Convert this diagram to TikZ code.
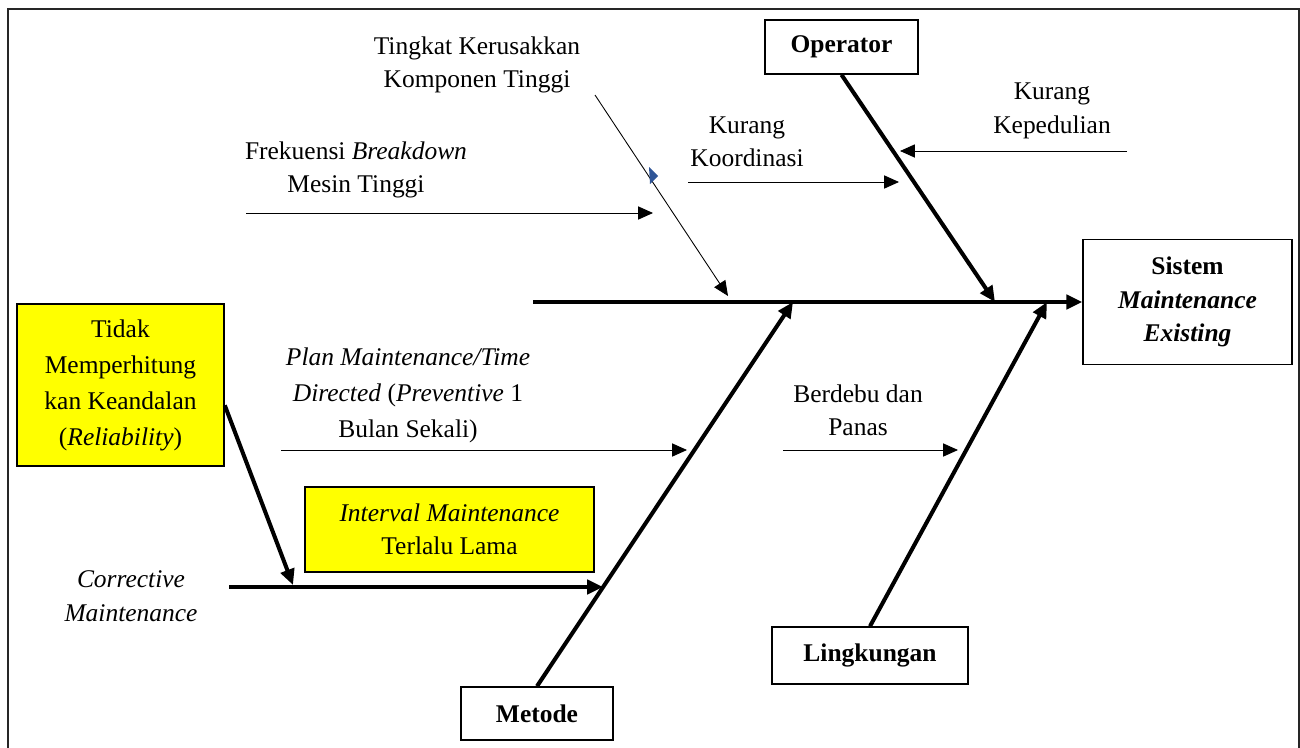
\documentclass[tikz,border=0pt]{standalone}
\usepackage{fontspec}
\setmainfont{Liberation Serif}
\usetikzlibrary{arrows.meta,positioning,calc}
\definecolor{hilite}{HTML}{FFFF00}
\definecolor{stray}{HTML}{2F5597}

\begin{document}
\begin{tikzpicture}[x=0.02cm,y=-0.02cm,font=\fontsize{14.5}{19}\selectfont,
    catbox/.style={draw,line width=0.9pt,inner sep=0pt,font=\fontsize{14.5}{19}\selectfont\bfseries},
    causebox/.style={draw,line width=0.9pt,fill=hilite,inner sep=0pt,align=center},
    note/.style={align=center,inner sep=0pt},
    tall/.style={font=\fontsize{14.5}{20.5}\selectfont},
    bone/.style={line width=2.3pt,-{Triangle[length=9pt,width=8pt]}},
    twig/.style={line width=0.5pt,-{Triangle[length=8.5pt,width=7.5pt]}}]
  \useasboundingbox (0,0) rectangle (1300,747);
  % frame
  \draw[line width=1.1pt,black!85] (8,760) -- (8,9) -- (1299,9) -- (1299,760);

  % effect and main categories
  \node[catbox,minimum width=4.18cm,minimum height=2.5cm,align=center] (effect) at (1187.5,302)
    {Sistem\\\textit{Maintenance}\\\textit{Existing}};
  \node[catbox,minimum width=3.06cm,minimum height=1.08cm] (op) at (841.5,47) {Operator};
  \node[catbox,minimum width=3.04cm,minimum height=1.06cm] (met) at (537,713.5) {Metode};
  \node[catbox,minimum width=3.92cm,minimum height=1.14cm] (env) at (870,655.5) {Lingkungan};

  % spine
  \coordinate (tail) at (533,302);
  \coordinate (jop) at (995,302);
  \coordinate (jmet) at (793,302);
  \coordinate (jenv) at (1047,302);
  \draw[bone] (tail) -- (effect.west);
  \draw[bone] (op.south) -- (jop);
  \draw[bone] (met.north) -- (jmet);
  \draw[bone] (env.north) -- (jenv);

  % operator causes
  \node[note] (peduli) at (1052,111) {Kurang\\Kepedulian};
  \node[note] (koord) at (747,142) {Kurang\\Koordinasi};
  \coordinate (peduliS) at (1127,151);
  \coordinate (peduliE) at (900,151);
  \coordinate (koordS) at (688,182);
  \coordinate (koordE) at (899,182);
  \draw[twig] (peduliS) -- (peduliE);
  \draw[twig] (koordS) -- (koordE);

  % machine causes
  \node[note] (rusak) at (477,65) {Tingkat Kerusakkan\\Komponen Tinggi};
  \node[note] (freq) at (356,170) {Frekuensi \textit{Breakdown}\\Mesin Tinggi};
  \coordinate (rusakS) at (595,95);
  \coordinate (rusakE) at (728,296);
  \coordinate (freqS) at (246,213);
  \coordinate (freqE) at (653,213);
  \draw[twig] (rusakS) -- (rusakE);
  \draw[twig] (freqS) -- (freqE);
  \fill[stray] (649,167) -- (658,176) -- (650,184) -- cycle;

  % method causes
  \node[note,tall] (plan) at (408,395)
    {\textit{Plan Maintenance/Time}\\\textit{Directed} (\textit{Preventive} 1\\Bulan Sekali)};
  \coordinate (planS) at (281,450);
  \coordinate (planE) at (687,450);
  \draw[twig] (planS) -- (planE);

  \node[causebox,tall,minimum width=4.14cm,minimum height=3.24cm] (rel) at (120.5,385)
    {\raisebox{0pt}[\height][\depth]{}Tidak\\Memperhitung\\kan Keandalan\\(\textit{Reliability})};
  \node[causebox,minimum width=5.78cm,minimum height=1.7cm] (intv) at (449.5,529.5)
    {\textit{Interval Maintenance}\\Terlalu Lama};
  \node[note] (corr) at (131,596) {\textit{Corrective}\\\textit{Maintenance}};
  \coordinate (corrS) at (229,587);
  \coordinate (corrE) at (603,587);
  \coordinate (corrJ) at (293,585);
  \draw[bone] (corrS) -- (corrE);
  \draw[bone] (rel.-11) -- (corrJ);

  % environment causes
  \node[note] (debu) at (858,410) {Berdebu dan\\Panas};
  \coordinate (debuS) at (783,450);
  \coordinate (debuE) at (958,450);
  \draw[twig] (debuS) -- (debuE);
\end{tikzpicture}
\end{document}
